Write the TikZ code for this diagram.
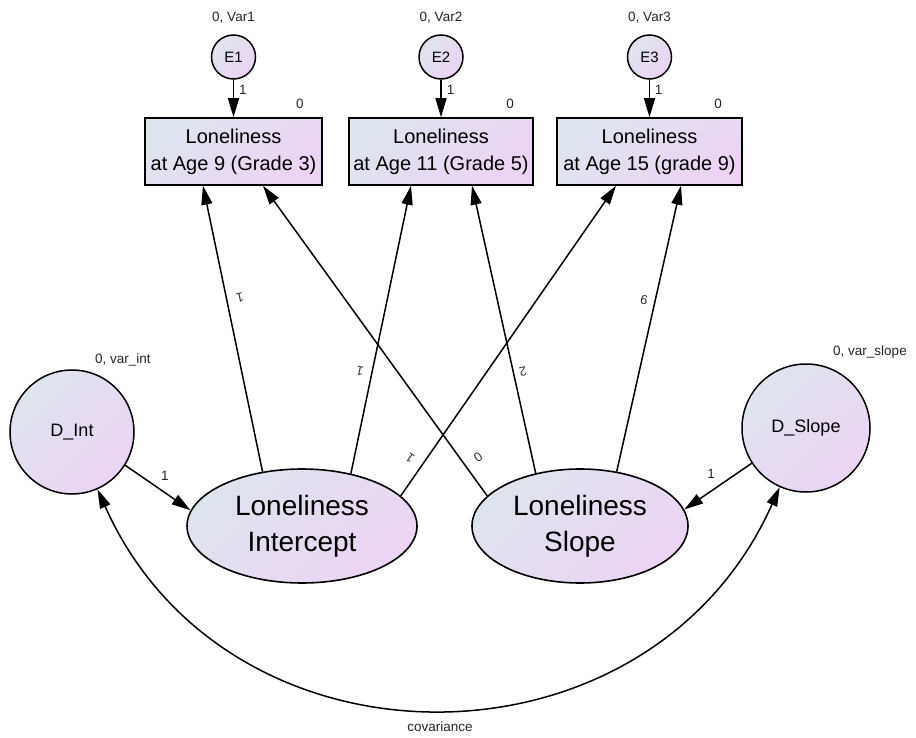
\documentclass[tikz,border=0pt]{standalone}
\usepackage{fontspec}
\setmainfont{Liberation Sans}
\usetikzlibrary{arrows.meta,shapes.geometric}
\definecolor{gA}{RGB}{222,228,238}
\definecolor{gB}{RGB}{236,212,244}
\begin{document}
\begin{tikzpicture}[x=1pt,y=-1pt,
  grad/.style={left color=gA, right color=gB, shading angle=45},
  obsbox/.style={draw, line width=1.5pt, grad, rectangle, minimum height=67pt, inner sep=0pt, align=center, font=\fontsize{20}{27}\selectfont},
  errc/.style={draw, line width=1.5pt, grad, circle, minimum size=44pt, inner sep=0pt, font=\fontsize{15}{18}\selectfont},
  lat/.style={draw, line width=1.6pt, grad, ellipse, minimum height=114pt, inner sep=0pt, align=center, font=\fontsize{28}{36}\selectfont},
  dis/.style={draw, line width=1.5pt, grad, circle, inner sep=0pt, font=\fontsize{18}{22}\selectfont},
  lbl/.style={inner sep=0pt, font=\fontsize{13.5}{16}\selectfont, text=black!85},
  plbl/.style={inner sep=0pt, font=\fontsize{13}{15}\selectfont, text=black!80},
  arr/.style={line width=1.5pt, -{Triangle[length=19pt,width=11pt]}},
  cov/.style={line width=1.5pt, {Triangle[length=19pt,width=11pt]}-{Triangle[length=19pt,width=11pt]}},
]
\path[use as bounding box, fill=white] (0,0) rectangle (916,738);

% observed
\node[obsbox, minimum width=177pt] (b1) at (233.5,151.5) {Loneliness\\at Age 9 (Grade 3)};
\node[obsbox, minimum width=184pt] (b2) at (441,151.5) {Loneliness\\at Age 11 (Grade 5)};
\node[obsbox, minimum width=185pt] (b3) at (649.5,151.5) {Loneliness\\at Age 15 (grade 9)};

% errors
\node[errc] (e1) at (233.5,57) {E1};
\node[errc] (e2) at (441,57) {E2};
\node[errc] (e3) at (649.5,57) {E3};
\node[lbl] (v1) at (233.5,18) {0, Var1};
\node[lbl] (v2) at (441,18) {0, Var2};
\node[lbl] (v3) at (649.5,18) {0, Var3};
\draw[arr] (e1) -- (b1);
\draw[arr] (e2) -- (b2);
\draw[arr] (e3) -- (b3);
\node[lbl] (w1) at (243,90) {1};
\node[lbl] (w2) at (450.5,90) {1};
\node[lbl] (w3) at (658.5,90) {1};
\node[lbl] (m1) at (300,104) {0};
\node[lbl] (m2) at (510,104) {0};
\node[lbl] (m3) at (718,104) {0};

% latents
\node[lat, minimum width=230pt] (int) at (302,526) {Loneliness\\Intercept};
\node[lat, minimum width=216pt] (slp) at (580,526) {Loneliness\\Slope};

% disturbances
\node[dis, minimum size=124pt] (dint) at (72,432) {D\_Int};
\node[dis, minimum size=128pt] (dslp) at (806,428) {D\_Slope};
\node[lbl] (vi) at (123,360) {0, var\_int};
\node[lbl] (vs) at (870,352) {0, var\_slope};

% loadings
\draw[arr] (int.126) -- ([xshift=-30.5pt]b1.south);
\draw[arr] (int.47) -- ([xshift=-30pt]b2.south);
\draw[arr] (int.17) -- ([xshift=-33.5pt]b3.south);
\draw[arr] (slp.162) -- ([xshift=29.5pt]b1.south);
\draw[arr] (slp.130) -- ([xshift=31pt]b2.south);
\draw[arr] (slp.56) -- ([xshift=31.5pt]b3.south);

\node[plbl, rotate=192] (p1) at (240,298) {1};
\node[plbl, rotate=168] (p2) at (360,371) {1};
\node[plbl, rotate=145] (p3) at (410,458) {1};
\node[plbl, rotate=216] (p4) at (478,457) {0};
\node[plbl, rotate=192] (p5) at (523,372) {2};
\node[plbl, rotate=167] (p6) at (644,300) {9};

% disturbance paths
\draw[arr] (dint.-32) -- (int.172);
\draw[arr] (dslp.213) -- (slp.9);
\node[lbl] (di1) at (165,476) {1};
\node[lbl] (ds1) at (711,474) {1};

% covariance
\draw[cov] (dint.-66) to[out=-66,in=-114,looseness=1.2] (dslp.-114);
\node[lbl] (cv) at (440,727) {covariance};
\end{tikzpicture}
\end{document}
